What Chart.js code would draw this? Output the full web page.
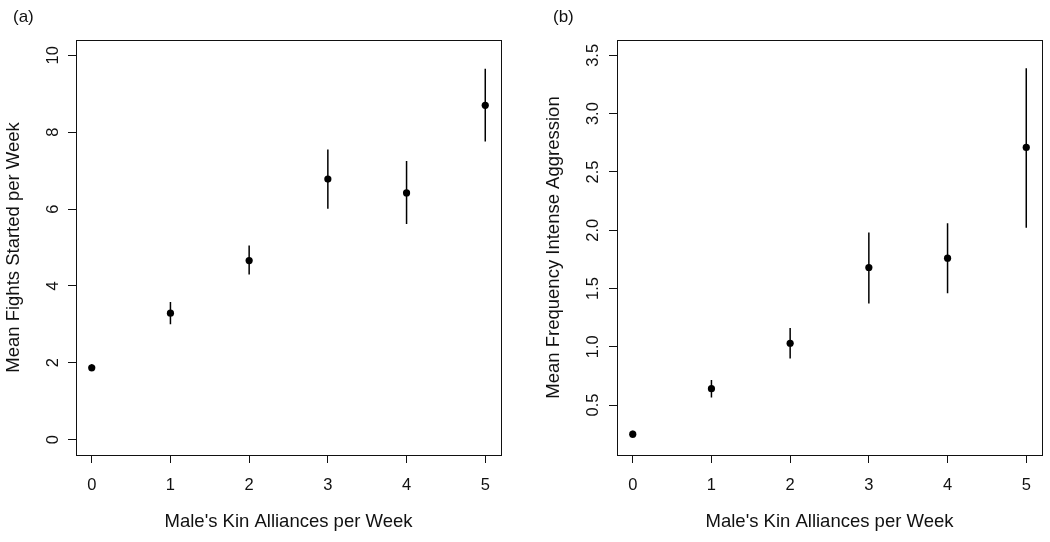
<!DOCTYPE html>
<html><head><meta charset="utf-8">
<script src="https://cdn.jsdelivr.net/npm/chart.js@4/dist/chart.umd.min.js"></script>
<style>
html,body{margin:0;padding:0;background:#fff;}
#wrap{position:relative;width:1050px;height:542px;overflow:hidden;background:#fff;}
canvas{position:absolute;top:0;}
#cA{left:0;} #cB{left:525px;}
</style></head><body>
<div id="wrap"><canvas id="cA" width="525" height="542"></canvas><canvas id="cB" width="525" height="542"></canvas></div>
<script>
// ---- data ----
const alliances = [0, 1, 2, 3, 4, 5];
const fightsMean = [1.87, 3.29, 4.66, 6.78, 6.42, 8.70];
const fightsLow  = [1.78, 3.00, 4.30, 6.01, 5.61, 7.76];
const fightsHigh = [1.96, 3.58, 5.05, 7.55, 7.25, 9.65];
const intenseMean = [0.25, 0.64, 1.03, 1.68, 1.76, 2.71];
const intenseLow  = [0.22, 0.565, 0.90, 1.37, 1.46, 2.02];
const intenseHigh = [0.28, 0.715, 1.16, 1.98, 2.06, 3.39];
const xTicks = [0, 1, 2, 3, 4, 5];
const fightsTicks = [0, 2, 4, 6, 8, 10];
const intenseTicks = [0.5, 1.0, 1.5, 2.0, 2.5, 3.0, 3.5];
const xTitle = "Male's Kin Alliances per Week";
const fightsTitle = "Mean Fights Started per Week";
const intenseTitle = "Mean Frequency Intense Aggression";

const FONT = '"Liberation Sans", Arial, Helvetica, sans-serif';
const INK = '#111';

const framePlugin = {
  id: 'frame',
  afterDraw(chart, args, opts) {
    const {ctx, chartArea: a} = chart;
    ctx.save();
    ctx.strokeStyle = INK;
    ctx.lineWidth = 1;
    const l = Math.round(a.left) + 0.5, t = Math.round(a.top) + 0.5;
    ctx.strokeRect(l, t, Math.round(a.right) - Math.round(a.left), Math.round(a.bottom) - Math.round(a.top));
    ctx.fillStyle = INK;
    ctx.font = '17px ' + FONT;
    ctx.textBaseline = 'middle';
    ctx.textAlign = 'left';
    ctx.fillText(opts.letter, opts.lx, opts.ly);
    ctx.restore();
  }
};

function errorSegments(xs, lo, hi) {
  const out = [];
  xs.forEach((x, i) => { out.push({x: x, y: lo[i]}, {x: x, y: hi[i]}, {x: x, y: null}); });
  return out;
}

function makePanel(id, p) {
  new Chart(document.getElementById(id), {
    type: 'scatter',
    data: {
      datasets: [
        {
          type: 'line',
          data: errorSegments(alliances, p.low, p.high),
          borderColor: '#000', borderWidth: 1.5,
          pointRadius: 0, pointHoverRadius: 0,
          spanGaps: false, fill: false, showLine: true, tension: 0
        },
        {
          type: 'scatter',
          data: alliances.map((x, i) => ({x: x, y: p.mean[i]})),
          pointRadius: 3.6, pointHoverRadius: 3.6,
          backgroundColor: '#000', borderWidth: 0
        }
      ]
    },
    options: {
      responsive: false, animation: false, devicePixelRatio: 1, events: [],
      layout: {padding: {top: 40, right: p.padRight, bottom: 0, left: 0}},
      plugins: {
        legend: {display: false}, tooltip: {enabled: false},
        frame: {letter: p.letter, lx: p.lx, ly: p.ly}
      },
      scales: {
        x: {
          type: 'linear', min: -0.2, max: 5.2,
          afterBuildTicks: s => { s.ticks = xTicks.map(v => ({value: v})); },
          afterFit: s => { s.height = 87; },
          ticks: {padding: 13, color: INK, font: {family: FONT, size: 16.5}, callback: v => String(v)},
          grid: {drawOnChartArea: false, drawTicks: true, tickLength: 8, color: INK, lineWidth: 1},
          border: {display: false},
          title: {display: true, text: xTitle, color: INK, font: {family: FONT, size: 18.5}, padding: {top: 0, bottom: 9}}
        },
        y: {
          type: 'linear', min: p.yMin, max: p.yMax,
          afterBuildTicks: s => { s.ticks = p.yTicks.map(v => ({value: v})); },
          afterFit: s => { s.width = p.yWidth; },
          ticks: {minRotation: 90, maxRotation: 90, crossAlign: 'center', padding: p.yTickPad, color: INK,
                  font: {family: FONT, size: 16.5}, callback: p.fmt},
          grid: {drawOnChartArea: false, drawTicks: true, tickLength: 8, color: INK, lineWidth: 1},
          border: {display: false},
          title: {display: true, text: p.yTitle, color: INK, font: {family: FONT, size: 18.5}, padding: {top: p.yTitlePad, bottom: 0}}
        }
      }
    },
    plugins: [framePlugin]
  });
}

makePanel('cA', {
  mean: fightsMean, low: fightsLow, high: fightsHigh,
  yMin: -0.4, yMax: 10.4, yTicks: fightsTicks, fmt: v => String(v),
  yTitle: fightsTitle, yWidth: 76, padRight: 24, yTickPad: 5, yTitlePad: 2.6,
  letter: '(a)', lx: 13, ly: 17
});
makePanel('cB', {
  mean: intenseMean, low: intenseLow, high: intenseHigh,
  yMin: 0.071, yMax: 3.632, yTicks: intenseTicks, fmt: v => Number(v).toFixed(1),
  yTitle: intenseTitle, yWidth: 92, padRight: 8, yTickPad: 4, yTitlePad: 18,
  letter: '(b)', lx: 28, ly: 17
});
</script>
</body></html>
